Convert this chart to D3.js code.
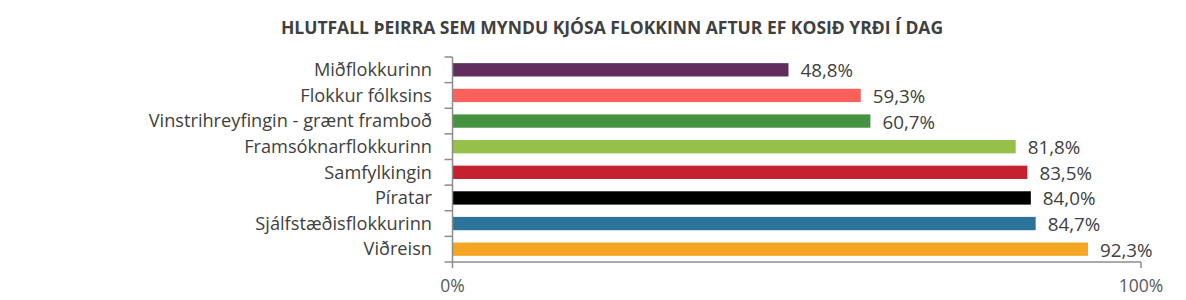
<!DOCTYPE html>
<html><head><meta charset="utf-8">
<script src="https://cdn.jsdelivr.net/npm/d3@7"></script>
<style>body{margin:0;background:#fff}svg{display:block}</style>
</head><body>
<svg id="c" width="1186" height="300"></svg>
<script>
const categories = ["Miðflokkurinn","Flokkur fólksins","Vinstrihreyfingin - grænt framboð","Framsóknarflokkurinn","Samfylkingin","Píratar","Sjálfstæðisflokkurinn","Viðreisn"];
const values = [48.8,59.3,60.7,81.8,83.5,84.0,84.7,92.3];
const colors = ["#612c5e","#fb605a","#469240","#95c14a","#c5212e","#000000","#2c739c","#f5a623"];
const xTicks = [0,100];
const xTickLabels = ["0%","100%"];
const title = "HLUTFALL ÞEIRRA SEM MYNDU KJÓSA FLOKKINN AFTUR EF KOSIÐ YRÐI Í DAG";

const svg = d3.select("#c");
const font = "'Open Sans', sans-serif";
const x = d3.scaleLinear().domain([0,100]).range([452.5,1141]);
const y = d3.scaleBand().domain(categories).range([57,262]).paddingInner(0.48).paddingOuter(0.24);
const fmt = v => d3.format(".1f")(v).replace(".",",") + "%";

svg.append("text").attr("x",612).attr("y",33.5).attr("text-anchor","middle")
  .attr("font-family",font).attr("font-weight","bold").attr("font-size",17.5).attr("fill","#404040").text(title);

svg.selectAll("rect.bar").data(values).join("rect").attr("class","bar")
  .attr("x",x(0)).attr("y",(d,i)=>y(categories[i])).attr("width",d=>x(d)-x(0))
  .attr("height",y.bandwidth()).attr("fill",(d,i)=>colors[i]);

svg.selectAll("text.val").data(values).join("text").attr("class","val")
  .attr("x",d=>x(d)+12).attr("y",(d,i)=>y(categories[i])+y.bandwidth()/2).attr("dy","0.4em")
  .attr("font-family",font).attr("font-size",18.8).attr("fill","#404040").text(fmt);

svg.selectAll("text.cat").data(categories).join("text").attr("class","cat")
  .attr("x",432).attr("y",d=>y(d)+y.bandwidth()/2).attr("dy","0.345em").attr("text-anchor","end")
  .attr("font-family",font).attr("font-size",18.2).attr("fill","#404040").text(d=>d);

const axisColor = "#8c8c8c";
const step = y.step();
const bounds = categories.map(c=>y(c)-step*y.paddingInner()/2).concat([y(categories[categories.length-1])+y.bandwidth()+step*y.paddingInner()/2]);
svg.append("line").attr("x1",x(0)).attr("x2",x(0)).attr("y1",bounds[0]).attr("y2",bounds[bounds.length-1]).attr("stroke",axisColor).attr("stroke-width",1.5);
svg.selectAll("line.yt").data(bounds).join("line").attr("class","yt")
  .attr("x1",x(0)-8).attr("x2",x(0)).attr("y1",d=>d).attr("y2",d=>d).attr("stroke",axisColor).attr("stroke-width",1.5);
const yb = bounds[bounds.length-1];
svg.append("line").attr("x1",x(0)).attr("x2",x(100)).attr("y1",yb).attr("y2",yb).attr("stroke",axisColor).attr("stroke-width",1.5);
svg.selectAll("line.xt").data(xTicks).join("line").attr("class","xt")
  .attr("x1",d=>x(d)).attr("x2",d=>x(d)).attr("y1",yb).attr("y2",yb+6).attr("stroke",axisColor).attr("stroke-width",1.5);
svg.selectAll("text.xl").data(xTicks).join("text").attr("class","xl")
  .attr("x",d=>x(d)).attr("y",yb+30).attr("text-anchor","middle")
  .attr("font-family",font).attr("font-size",17.5).attr("fill","#595959").text((d,i)=>xTickLabels[i]);
</script>
</body></html>
